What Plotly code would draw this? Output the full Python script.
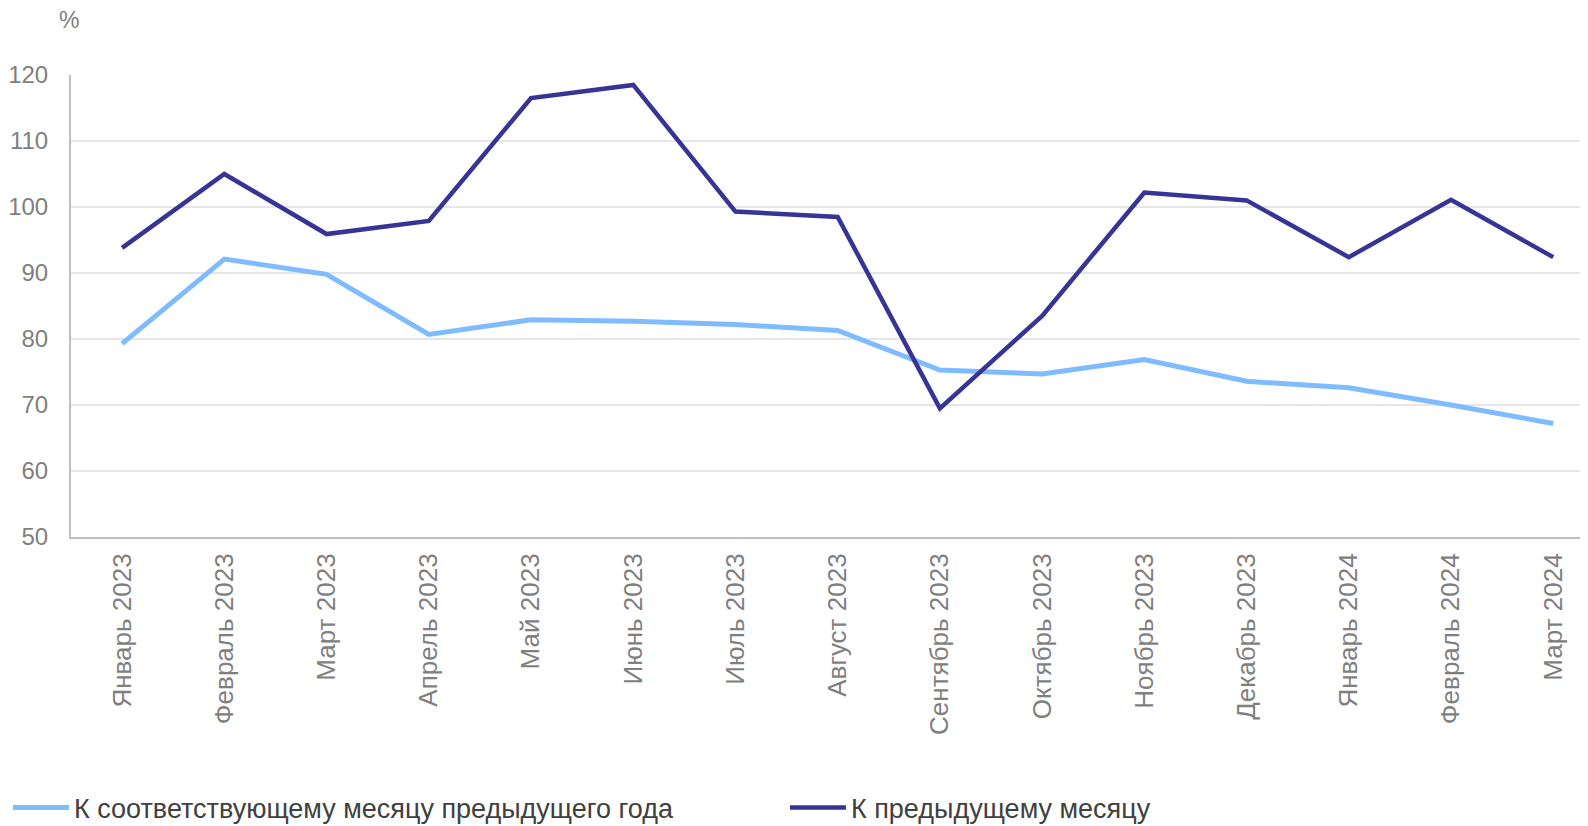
import plotly.graph_objects as go

categories = ["Январь 2023", "Февраль 2023", "Март 2023", "Апрель 2023", "Май 2023",
              "Июнь 2023", "Июль 2023", "Август 2023", "Сентябрь 2023", "Октябрь 2023",
              "Ноябрь 2023", "Декабрь 2023", "Январь 2024", "Февраль 2024", "Март 2024"]
yoy = [79.3, 92.1, 89.8, 80.7, 82.9, 82.7, 82.2, 81.3, 75.3, 74.7, 76.9, 73.6, 72.6, 70.0, 67.2]
mom = [93.8, 105.0, 95.9, 97.9, 116.5, 118.5, 99.3, 98.5, 69.5, 83.5, 102.2, 101.0, 92.4, 101.1, 92.4]
series_names = ["К соответствующему месяцу предыдущего года", "К предыдущему месяцу"]
y_ticks = [50, 60, 70, 80, 90, 100, 110, 120]

FONT = "Liberation Sans, Arial, sans-serif"
W, H = 1580, 818
L, T, B = 63, 67, 288.5
PW = W - L
PH = H - T - B

fig = go.Figure()
fig.add_trace(go.Scatter(x=categories, y=yoy, mode="lines", name=series_names[0],
                         line=dict(color="#7FBCFF", width=5), legend="legend"))
fig.add_trace(go.Scatter(x=categories, y=mom, mode="lines", name=series_names[1],
                         line=dict(color="#373496", width=4.5), legend="legend2"))

leg_common = dict(orientation="h", xref="paper", yref="container",
                  y=1 - 800 / H, xanchor="left", yanchor="middle",
                  font=dict(size=27, color="#404040", family=FONT),
                  itemwidth=56, bgcolor="rgba(0,0,0,0)")

fig.update_layout(
    width=W, height=H,
    margin=dict(l=L, r=0, t=T, b=B),
    paper_bgcolor="white", plot_bgcolor="white",
    font=dict(family=FONT, size=24, color="#7f7f7f"),
    showlegend=True,
    legend=dict(x=(-2 - L) / PW, **leg_common),
    legend2=dict(x=(777 - L) / PW, **leg_common),
    xaxis=dict(type="category", range=[-0.5, 14.34], showgrid=False,
               showline=True, linecolor="#bfbfbf", linewidth=2,
               ticks="", tickangle=-90, ticklabelstandoff=4,
               tickfont=dict(size=26, color="#7f7f7f")),
    yaxis=dict(range=[50, 120], tickvals=y_ticks, showgrid=True,
               gridcolor="#e6e6e6", gridwidth=1.5, zeroline=False,
               showline=True, linecolor="#bfbfbf", linewidth=2,
               ticks="", ticklabelstandoff=16,
               tickfont=dict(size=24, color="#7f7f7f")),
    annotations=[dict(text="%", xref="paper", yref="paper",
                      x=(49 - L) / PW, y=1 + (T - 12) / PH,
                      xanchor="left", yanchor="middle", showarrow=False,
                      font=dict(size=23, color="#7f7f7f", family=FONT))],
)

fig.write_html("out.html")
